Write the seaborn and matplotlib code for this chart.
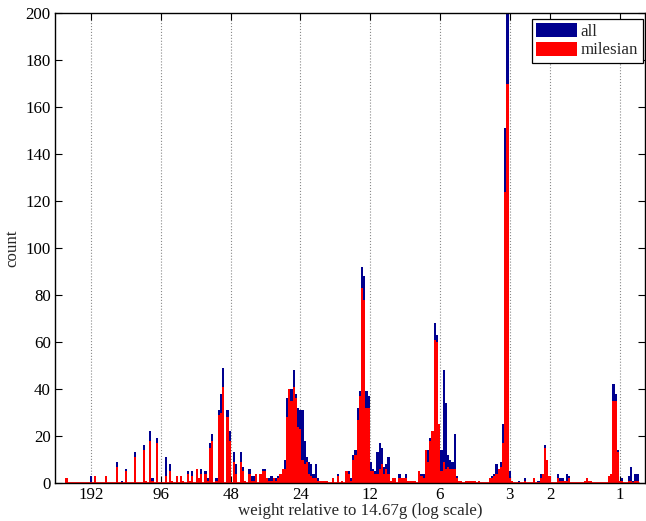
import numpy as np
import pandas as pd
import matplotlib
matplotlib.use("Agg")
import matplotlib.pyplot as plt
from matplotlib.ticker import NullLocator
import seaborn as sns

# Histogram of coin weights (relative to 14.67 g) in bins of equal width on a
# log scale, listed from the heaviest bin (left) to the lightest bin (right).
n_bins = 260
w_heaviest = 245.8   # centre of the heaviest bin
w_lightest = 0.839   # centre of the lightest bin

all_counts = [
    2, 0, 0, 0, 0, 0, 0, 0, 0, 0, 0, 3, 0, 3, 0, 0, 0, 0, 3, 0,
    0, 0, 0, 9, 0, 1, 0, 6, 0, 0, 0, 13, 0, 0, 0, 16, 1, 0, 22, 2,
    0, 19, 0, 0, 0, 11, 0, 8, 1, 0, 3, 0, 3, 1, 0, 5, 1, 5, 0, 6,
    2, 6, 0, 5, 2, 17, 21, 0, 2, 31, 38, 49, 0, 31, 22, 0, 13, 8, 0, 13,
    7, 1, 0, 6, 3, 3, 4, 0, 4, 6, 6, 2, 2, 3, 2, 2, 3, 4, 6, 10,
    36, 40, 40, 48, 38, 32, 31, 31, 18, 11, 9, 8, 4, 8, 2, 1, 1, 1, 1, 0,
    0, 2, 0, 4, 0, 1, 0, 5, 5, 2, 12, 14, 32, 39, 92, 88, 39, 37, 9, 6,
    5, 13, 17, 15, 7, 8, 11, 1, 2, 2, 0, 4, 2, 2, 4, 1, 1, 1, 1, 0,
    5, 4, 4, 14, 14, 19, 22, 68, 63, 25, 14, 48, 34, 12, 10, 9, 21, 3, 1, 1,
    0, 1, 1, 1, 1, 1, 0, 1, 0, 0, 0, 0, 2, 3, 4, 8, 6, 9, 25, 151,
    201, 5, 1, 0, 0, 1, 0, 0, 2, 0, 0, 0, 2, 0, 1, 4, 4, 16, 10, 3,
    0, 0, 0, 4, 2, 2, 1, 4, 3, 0, 0, 0, 0, 0, 0, 1, 2, 1, 1, 0,
    0, 0, 0, 0, 0, 0, 3, 4, 42, 38, 14, 1, 2, 0, 0, 3, 7, 1, 4, 4,
]

milesian_counts = [
    2, 0, 0, 0, 0, 0, 0, 0, 0, 0, 0, 0, 0, 3, 0, 0, 0, 0, 3, 0,
    0, 0, 0, 7, 0, 0, 0, 5, 0, 0, 0, 11, 0, 0, 0, 14, 1, 0, 18, 1,
    0, 17, 0, 0, 0, 3, 0, 5, 1, 0, 3, 0, 3, 1, 0, 4, 1, 3, 0, 6,
    2, 4, 0, 4, 1, 15, 18, 0, 1, 29, 30, 41, 0, 28, 18, 0, 9, 4, 0, 9,
    5, 1, 0, 4, 1, 1, 4, 0, 4, 5, 5, 2, 1, 1, 2, 1, 2, 4, 6, 6,
    28, 40, 35, 41, 36, 24, 23, 10, 8, 9, 4, 3, 2, 2, 1, 1, 1, 1, 1, 0,
    0, 2, 0, 3, 0, 1, 0, 5, 4, 1, 10, 12, 27, 37, 83, 78, 32, 32, 5, 5,
    4, 4, 6, 8, 4, 6, 4, 1, 2, 2, 0, 2, 2, 2, 2, 1, 1, 1, 1, 0,
    5, 3, 2, 14, 9, 18, 22, 61, 60, 25, 5, 9, 6, 7, 6, 6, 6, 2, 1, 1,
    0, 1, 1, 1, 1, 1, 0, 1, 0, 0, 0, 0, 2, 2, 3, 4, 6, 7, 17, 124,
    170, 2, 1, 0, 0, 0, 0, 0, 1, 0, 0, 0, 2, 0, 0, 2, 4, 15, 10, 3,
    0, 0, 0, 2, 1, 1, 1, 1, 2, 0, 0, 0, 0, 0, 0, 1, 2, 1, 1, 0,
    0, 0, 0, 0, 0, 0, 3, 4, 35, 35, 13, 1, 1, 0, 0, 1, 1, 0, 1, 1,
]

x_ticks = [192, 96, 48, 24, 12, 6, 3, 2, 1]
y_ticks = list(range(0, 201, 20))
x_range = (275.6, 0.78)   # heaviest on the left
y_range = (0, 200)

BLUE = "#00008F"
RED = "#FF0000"
FS = 12.2

# bin centres and edges, evenly spaced in log2
log_centres = np.linspace(np.log2(w_heaviest), np.log2(w_lightest), n_bins)
step = log_centres[0] - log_centres[1]
edges = 2.0 ** np.linspace(log_centres[-1] - step / 2,
                           log_centres[0] + step / 2, n_bins + 1)

hist = pd.DataFrame({
    "weight": 2.0 ** log_centres,
    "all": np.asarray(all_counts, dtype=float),
    "milesian": np.asarray(milesian_counts, dtype=float),
})

sns.set_style("ticks")
plt.rcParams["font.family"] = ["Liberation Serif", "DejaVu Serif"]
plt.rcParams["font.size"] = FS

fig = plt.figure(figsize=(6.46, 5.21), dpi=100)
ax = fig.add_axes([0.0851, 0.0729, 0.9134, 0.9021])

sns.histplot(data=hist, x="weight", weights="all", bins=list(edges),
             color=BLUE, alpha=1, linewidth=0, label="all", ax=ax)
sns.histplot(data=hist, x="weight", weights="milesian", bins=list(edges),
             color=RED, alpha=1, linewidth=0, label="milesian", ax=ax)

# zero line of the bar series
ax.hlines(0, edges[0], edges[-1], color=RED, linewidth=2.0, zorder=1.7)

ax.set_xscale("log", base=2)
ax.set_xlim(*x_range)
ax.set_ylim(*y_range)
ax.set_xticks(x_ticks)
ax.set_xticklabels([str(t) for t in x_ticks])
ax.xaxis.set_minor_locator(NullLocator())
ax.set_yticks(y_ticks)

ax.grid(True, axis="x", linestyle=":", color="#8a8a8a", linewidth=0.8)
ax.set_axisbelow(True)

ax.tick_params(direction="in", length=5, width=0.8, top=True, right=True,
               labelsize=FS, pad=3, colors="black")
for s in ax.spines.values():
    s.set_visible(True)
    s.set_color("black")
    s.set_linewidth(1.0)

ax.set_xlabel("weight relative to 14.67g (log scale)", fontsize=FS)
ax.xaxis.set_label_coords(0.517, -0.043)
ax.set_ylabel("count", fontsize=FS, labelpad=4)

leg = ax.legend(loc="upper right", bbox_to_anchor=(0.9958, 0.9872),
                borderaxespad=0, frameon=True, fancybox=False,
                edgecolor="black", framealpha=1,
                handlelength=2.45, handleheight=0.9, handletextpad=0.2,
                labelspacing=0.08, borderpad=0.25, fontsize=FS)
leg.get_frame().set_linewidth(0.9)

fig.savefig("out.png", dpi=100)
